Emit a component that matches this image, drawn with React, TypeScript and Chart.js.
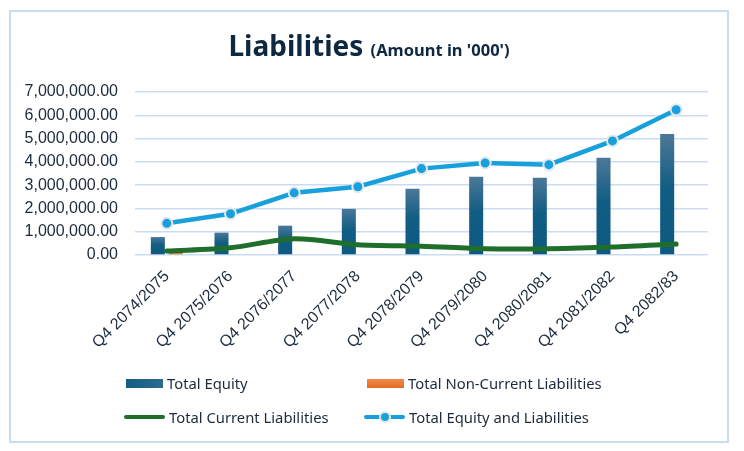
import { useEffect, useRef } from 'react';
import { Chart, registerables, ScriptableContext } from 'chart.js';

Chart.register(...registerables);

const categories = [
  'Q4 2074/2075',
  'Q4 2075/2076',
  'Q4 2076/2077',
  'Q4 2077/2078',
  'Q4 2078/2079',
  'Q4 2079/2080',
  'Q4 2080/2081',
  'Q4 2081/2082',
  'Q4 2082/83',
];
const totalEquity = [770000, 960000, 1260000, 1980000, 2850000, 3360000, 3320000, 4180000, 5200000];
const totalNonCurrentLiabilities = [95000, 0, 0, 0, 0, 0, 0, 0, 35000];
const totalCurrentLiabilities = [170000, 310000, 700000, 440000, 380000, 270000, 270000, 340000, 470000];
const totalEquityAndLiabilities = [1360000, 1770000, 2670000, 2930000, 3710000, 3950000, 3880000, 4900000, 6240000];
const yTicks = [0, 1000000, 2000000, 3000000, 4000000, 5000000, 6000000, 7000000];

const TEXT = '#1d2b3c';
const GRID = '#c9dcf1';
const GREEN = '#1f6e2b';
const BLUE = '#18a0dc';
const ORANGE = '#ea7634';
const fmt = (v: number) => v.toLocaleString('en-US', { minimumFractionDigits: 2, maximumFractionDigits: 2 });

function equityFill(ctx: ScriptableContext<'bar'>) {
  const chart = ctx.chart;
  const y = chart.scales.y;
  if (!chart.chartArea || !y || ctx.type !== 'data') return '#0e5a80';
  const top = y.getPixelForValue(ctx.raw as number);
  const bottom = y.getPixelForValue(0);
  if (bottom - top < 1) return '#0e5a80';
  const g = chart.ctx.createLinearGradient(0, top, 0, bottom);
  g.addColorStop(0, '#4c7898');
  g.addColorStop(0.45, '#125d83');
  g.addColorStop(1, '#0d597f');
  return g;
}

const legendText: React.CSSProperties = {
  fontFamily: '"Noto Sans", sans-serif',
  fontSize: 14.8,
  color: TEXT,
  whiteSpace: 'nowrap',
};

function LegendItem({ left, top, symbol, label }: { left: number; top: number; symbol: React.ReactNode; label: string }) {
  return (
    <div style={{ position: 'absolute', left, top: top - 10, height: 20, display: 'flex', alignItems: 'center' }}>
      {symbol}
      <span style={{ ...legendText, marginLeft: 4 }}>{label}</span>
    </div>
  );
}

export default function App() {
  const canvasRef = useRef<HTMLCanvasElement>(null);
  const chartRef = useRef<Chart | null>(null);

  useEffect(() => {
    if (!canvasRef.current) return;
    if (chartRef.current) chartRef.current.destroy();

    chartRef.current = new Chart(canvasRef.current, {
      type: 'bar',
      data: {
        labels: categories,
        datasets: [
          {
            type: 'line',
            label: 'Total Equity and Liabilities',
            data: totalEquityAndLiabilities,
            borderColor: BLUE,
            borderWidth: 4.5,
            pointRadius: 5.5,
            pointBackgroundColor: BLUE,
            pointBorderColor: '#e4e8ec',
            pointBorderWidth: 2,
            tension: 0,
            order: 0,
          },
          {
            type: 'line',
            label: 'Total Current Liabilities',
            data: totalCurrentLiabilities,
            borderColor: GREEN,
            borderWidth: 5,
            pointRadius: 0,
            tension: 0.3,
            borderCapStyle: 'round',
            order: 1,
          },
          {
            type: 'bar',
            label: 'Total Equity',
            data: totalEquity,
            backgroundColor: equityFill,
            categoryPercentage: 0.565,
            barPercentage: 0.78,
            order: 2,
          },
          {
            type: 'bar',
            label: 'Total Non-Current Liabilities',
            data: totalNonCurrentLiabilities,
            backgroundColor: ORANGE,
            categoryPercentage: 0.565,
            barPercentage: 0.78,
            order: 3,
          },
        ],
      },
      options: {
        responsive: false,
        animation: false,
        layout: { padding: { top: 92, right: 36, bottom: 96, left: 0 } },
        plugins: {
          legend: { display: false },
          title: { display: false },
          tooltip: { enabled: false },
        },
        scales: {
          x: {
            grid: { display: false, drawTicks: false },
            border: { display: false },
            ticks: {
              autoSkip: false,
              minRotation: 45,
              maxRotation: 45,
              padding: 12,
              color: TEXT,
              font: { family: '"Liberation Sans", Arial, sans-serif', size: 16 },
            },
            afterFit: (s) => {
              s.height = 100;
            },
          },
          y: {
            min: 0,
            max: 7000000,
            afterBuildTicks: (s) => {
              s.ticks = yTicks.map((v) => ({ value: v }));
            },
            grid: { color: GRID, lineWidth: 1.5, drawTicks: false },
            border: { display: false },
            ticks: {
              padding: 17,
              color: TEXT,
              font: { family: '"Liberation Sans", Arial, sans-serif', size: 16 },
              callback: (v) => fmt(Number(v)),
            },
            afterFit: (s) => {
              s.width = 135;
            },
          },
        },
      },
    });

    return () => {
      if (chartRef.current) {
        chartRef.current.destroy();
        chartRef.current = null;
      }
    };
  }, []);

  return (
    <div style={{ position: 'fixed', left: 0, top: 0, width: 744, height: 451, background: '#fff', overflow: 'hidden' }}>
      <div
        style={{
          position: 'absolute',
          left: 9,
          top: 10,
          width: 720,
          height: 433,
          border: '2px solid #c8dcf2',
          boxSizing: 'border-box',
        }}
      />
      <canvas ref={canvasRef} width={744} height={451} style={{ position: 'absolute', left: 0, top: 0 }} />
      <div
        style={{
          position: 'absolute',
          left: 10,
          width: 718,
          top: 26,
          textAlign: 'center',
          fontFamily: '"Noto Sans", sans-serif',
          fontWeight: 700,
          color: '#0e2841',
          whiteSpace: 'nowrap',
        }}
      >
        <span style={{ fontSize: 28 }}>Liabilities </span>
        <span style={{ fontSize: 16.5 }}>(Amount in '000')</span>
      </div>
      <LegendItem
        left={126}
        top={383}
        label="Total Equity"
        symbol={<div style={{ width: 37, height: 9, background: 'linear-gradient(90deg, #135d83, #2c6b8e)' }} />}
      />
      <LegendItem
        left={367}
        top={383}
        label="Total Non-Current Liabilities"
        symbol={<div style={{ width: 37, height: 9, background: 'linear-gradient(180deg, #f08a4b, #e46a28)' }} />}
      />
      <LegendItem
        left={124}
        top={417}
        label="Total Current Liabilities"
        symbol={<div style={{ width: 41, height: 4.5, borderRadius: 3, background: GREEN }} />}
      />
      <LegendItem
        left={364}
        top={417}
        label="Total Equity and Liabilities"
        symbol={
          <div style={{ position: 'relative', width: 41, height: 12 }}>
            <div style={{ position: 'absolute', left: 0, top: 4, width: 41, height: 4, borderRadius: 2, background: BLUE }} />
            <div
              style={{
                position: 'absolute',
                left: 15,
                top: 0,
                width: 8,
                height: 8,
                borderRadius: '50%',
                background: BLUE,
                border: '2px solid #e4e8ec',
              }}
            />
          </div>
        }
      />
    </div>
  );
}
